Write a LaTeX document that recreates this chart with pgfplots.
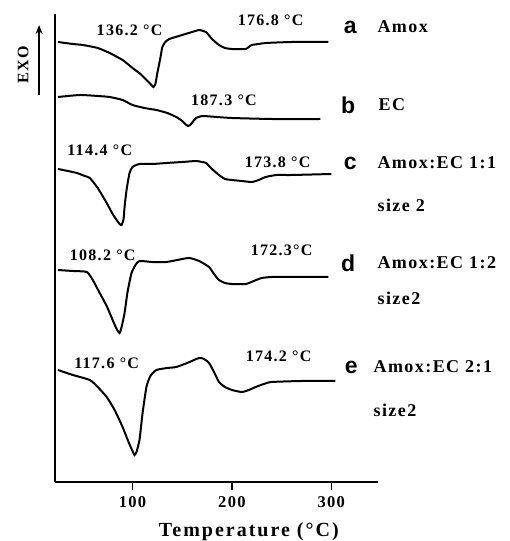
\documentclass[border=0pt]{standalone}
\usepackage{pgfplots}
\pgfplotsset{compat=1.18}
\usetikzlibrary{arrows.meta}
\usepackage{fontspec}
\setmainfont{Liberation Serif}
\newfontfamily\lsans{Liberation Sans}
\newfontfamily\spaced[LetterSpace=8]{Liberation Serif}
\newfontfamily\spacedw[LetterSpace=10]{Liberation Serif}
\newcommand{\tl}[1]{{\spaced\fontsize{16}{18}\selectfont\bfseries #1}}
\newcommand{\rl}[1]{{\spaced\fontsize{18}{20}\selectfont\bfseries #1}}
\newcommand{\lett}[1]{{\lsans\fontsize{23}{25}\selectfont\bfseries #1}}
\pgfplotsset{dsc/.style={black, line width=2pt, smooth, tension=0.35, no marks}}
\begin{document}
\begin{tikzpicture}
\path[use as bounding box] (-55pt,-59pt) rectangle (455pt,482pt);
\begin{axis}[
  scale only axis, width=323pt, height=468pt,
  xmin=22, xmax=347, ymin=0, ymax=468,
  axis x line*=bottom, axis y line*=left,
  axis line style={line width=1.6pt},
  xtick={100,200,300}, ytick=\empty,
  tick align=outside, major tick length=8pt,
  tick style={line width=1.4pt, black},
  xticklabel style={font=\spaced\fontsize{16.5}{18}\selectfont\bfseries, yshift=-3pt},
  /pgf/number format/assume math mode=true,
  clip=false,
]
% a
\addplot[dsc] coordinates {(25,440)(40,438)(50,437)(65,434)(77,429)(90,422)(100,414)(108,408)(114,402)(119,397)(121,395)(123,398)(125,409)(128,424)(130,435)(133,440)(137,443)(150,447)(160,450)(167,452)(171,451)(174,450)(180,443)(187,437)(193,434)(200,433)(210,433)(214,433)(217,435)(220,437)(227,438)(234,439)(260,440)(297,440)};
% b
\addplot[dsc] coordinates {(25,385)(47,387)(65,386)(77,385)(90,382)(100,377)(112,374)(124,372)(135,369)(144,365)(150,361)(153,358)(156,356)(159,358)(162,362)(164,364)(170,366)(185,365)(200,364)(240,363)(289,363)};
% c
\addplot[dsc] coordinates {(25,313)(35,311)(44,309)(52,306)(57,304)(65,294)(74,279)(80,268)(84,262)(87,258)(89,257)(91,263)(92,275)(94,292)(97,309)(100,315)(107,318)(120,318)(134,319)(150,320)(164,321)(170,320)(174,319)(180,313)(187,307)(193,303)(200,302)(210,301)(220,300)(227,302)(234,305)(245,307)(260,307)(300,308)};
% d
\addplot[dsc] coordinates {(25,212)(40,211)(54,210)(60,202)(67,189)(74,176)(80,162)(84,153)(87,149)(89,155)(92,169)(95,190)(99,209)(103,217)(107,221)(120,220)(134,220)(145,222)(157,224)(167,221)(177,215)(182,208)(187,202)(193,199)(200,198)(214,198)(222,201)(230,204)(240,205)(250,205)(297,205)};
% e
\addplot[dsc] coordinates {(25,112)(40,107)(57,102)(65,95)(74,85)(82,72)(90,55)(96,40)(100,31)(102,27)(104,30)(107,42)(110,68)(114,95)(118,106)(124,112)(135,114)(144,115)(155,119)(167,124)(172,123)(177,119)(182,110)(187,100)(193,95)(200,92)(210,90)(217,92)(224,95)(232,98)(240,100)(270,101)(304,101)};

\node at (axis cs:97,452) {\tl{136.2 \textdegree C}};
\node at (axis cs:239,462) {\tl{176.8 \textdegree C}};
\node at (axis cs:319,455) {\lett{a}};
\node[anchor=west] at (axis cs:343,455) {\rl{Amox}};
\node at (axis cs:192,382) {\tl{187.3 \textdegree C}};
\node at (axis cs:317,377) {\lett{b}};
\node[anchor=west] at (axis cs:344,377) {\rl{EC}};
\node at (axis cs:67,332) {\tl{114.4 \textdegree C}};
\node at (axis cs:246,320) {\tl{173.8 \textdegree C}};
\node at (axis cs:319,319) {\lett{c}};
\node[anchor=west] at (axis cs:343,319) {\rl{Amox:EC 1:1}};
\node[anchor=west] at (axis cs:343,277) {\rl{size 2}};
\node at (axis cs:70,227) {\tl{108.2 \textdegree C}};
\node at (axis cs:250,232) {\tl{172.3\textdegree C}};
\node at (axis cs:317,219) {\lett{d}};
\node[anchor=west] at (axis cs:343,219) {\rl{Amox:EC 1:2}};
\node[anchor=west] at (axis cs:343,184) {\rl{size2}};
\node at (axis cs:74,119) {\tl{117.6 \textdegree C}};
\node at (axis cs:247,126) {\tl{174.2 \textdegree C}};
\node at (axis cs:320,115) {\lett{e}};
\node[anchor=west] at (axis cs:339,115) {\rl{Amox:EC 2:1}};
\node[anchor=west] at (axis cs:339,72) {\rl{size2}};
\node at (axis cs:217,-50) {{\spacedw\fontsize{20}{22}\selectfont\bfseries Temperature (\textdegree C)}};
\node[rotate=90] at (axis cs:-10,417) {{\spaced\fontsize{16}{18}\selectfont\bfseries EXO}};
\draw[line width=1.5pt, -{Stealth[length=9pt,width=7pt]}] (axis cs:6,387) -- (axis cs:6,457);
\end{axis}
\end{tikzpicture}
\end{document}
